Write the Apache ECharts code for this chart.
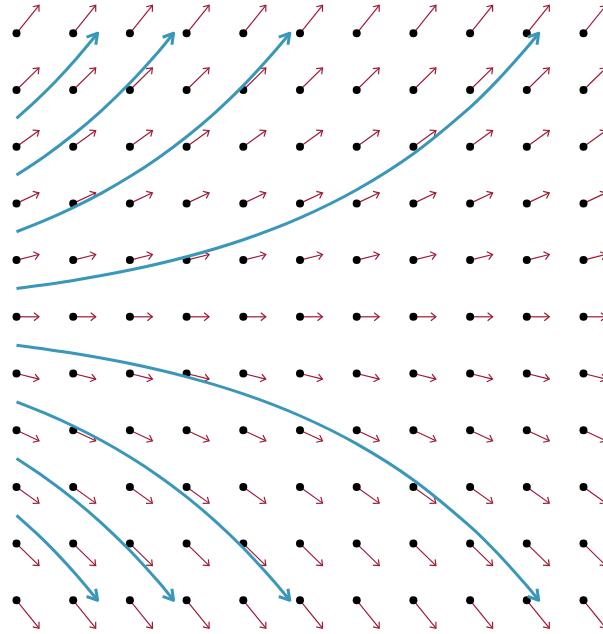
<!DOCTYPE html>
<html>
<head>
<meta charset="utf-8">
<script src="https://cdn.jsdelivr.net/npm/echarts@6/dist/echarts.min.js"></script>
<style>
  html, body { margin: 0; padding: 0; background: #fff; }
  #chart { width: 603px; height: 634px; }
</style>
</head>
<body>
<div id="chart"></div>
<script>
// grid of sample points
const colsX = [0, 1, 2, 3, 4, 5, 6, 7, 8, 9, 10]
const rowsY = [-5, -4, -3, -2, -1, 0, 1, 2, 3, 4, 5]
// slope of the arrow at each row
const rowSlope = [-1.24, -0.98, -0.72, -0.47, -0.25, 0, 0.25, 0.47, 0.72, 0.98, 1.24]
const arrowDx = 0.397

// streamlines
const streamUp1 = [[0, 0.5], [1, 0.642], [2, 0.824], [3, 1.059], [4, 1.359], [5, 1.745], [6, 2.241], [7, 2.877], [8, 3.695], [8.5, 4.187], [9, 4.744], [9.21, 5.0]]
const streamUp2 = [[0, 1.5], [0.5, 1.7], [1, 1.926], [1.5, 2.182], [2, 2.473], [2.5, 2.802], [3, 3.176], [3.5, 3.598], [4, 4.077], [4.5, 4.62], [4.82, 5.0]]
const streamUp3 = [[0, 2.5], [0.5, 2.833], [1, 3.21], [1.5, 3.637], [2, 4.122], [2.5, 4.67], [2.77, 5.0]]
const streamUp4 = [[0, 3.5], [0.35, 3.816], [0.7, 4.163], [1.05, 4.546], [1.43, 5.0]]
const streamDn1 = [[0, -0.5], [1, -0.642], [2, -0.824], [3, -1.059], [4, -1.359], [5, -1.745], [6, -2.241], [7, -2.877], [8, -3.695], [8.5, -4.187], [9, -4.744], [9.21, -5.0]]
const streamDn2 = [[0, -1.5], [0.5, -1.7], [1, -1.926], [1.5, -2.182], [2, -2.473], [2.5, -2.802], [3, -3.176], [3.5, -3.598], [4, -4.077], [4.5, -4.62], [4.82, -5.0]]
const streamDn3 = [[0, -2.5], [0.5, -2.833], [1, -3.21], [1.5, -3.637], [2, -4.122], [2.5, -4.67], [2.77, -5.0]]
const streamDn4 = [[0, -3.5], [0.35, -3.816], [0.7, -4.163], [1.05, -4.546], [1.43, -5.0]]
const streams = [streamUp1, streamUp2, streamUp3, streamUp4, streamDn1, streamDn2, streamDn3, streamDn4]

const dots = []
const arrows = []
rowsY.forEach((y, i) => {
  colsX.forEach((x) => {
    dots.push([x, y])
    arrows.push([x, y, rowSlope[i]])
  })
})

// open arrow head at p1 pointing away from p0
function headPoints (p0, p1, len, half) {
  const dx = p1[0] - p0[0]
  const dy = p1[1] - p0[1]
  const d = Math.sqrt(dx * dx + dy * dy) || 1
  const ux = dx / d
  const uy = dy / d
  const bx = p1[0] - ux * len
  const by = p1[1] - uy * len
  return [[bx - uy * half, by + ux * half], p1, [bx + uy * half, by - ux * half]]
}

const chart = echarts.init(document.getElementById('chart'))
const option = {
  animation: false,
  grid: { left: 0, right: 0, top: 0, bottom: 0 },
  xAxis: { type: 'value', min: -0.291, max: 10.344, show: false },
  yAxis: { type: 'value', min: -5.594, max: 5.587, show: false },
  series: [
    {
      type: 'custom',
      z: 1,
      clip: false,
      data: arrows,
      renderItem: (params, api) => {
        const x = api.value(0)
        const y = api.value(1)
        const s = api.value(2)
        const p0 = api.coord([x, y])
        const p1 = api.coord([x + arrowDx, y + arrowDx * s])
        const style = { stroke: '#9e1a35', lineWidth: 1.2, fill: null }
        return {
          type: 'group',
          children: [
            { type: 'line', shape: { x1: p0[0], y1: p0[1], x2: p1[0], y2: p1[1] }, style: style },
            { type: 'polyline', shape: { points: headPoints(p0, p1, 5, 4) }, style: style }
          ]
        }
      }
    },
    {
      type: 'scatter',
      z: 2,
      data: dots,
      symbolSize: 8,
      itemStyle: { color: '#000', opacity: 1 }
    },
    {
      type: 'custom',
      z: 3,
      clip: false,
      data: streams.map((s, i) => [i]),
      renderItem: (params, api) => {
        const pts = streams[api.value(0)].map((p) => api.coord(p))
        const n = pts.length
        const style = { stroke: '#3a97ba', lineWidth: 3, fill: null, lineJoin: 'round' }
        return {
          type: 'group',
          children: [
            { type: 'polyline', shape: { points: pts, smooth: 0.3 }, style: style },
            { type: 'polyline', shape: { points: headPoints(pts[n - 2], pts[n - 1], 10, 6) }, style: style }
          ]
        }
      }
    }
  ]
}
chart.setOption(option)
</script>
</body>
</html>
